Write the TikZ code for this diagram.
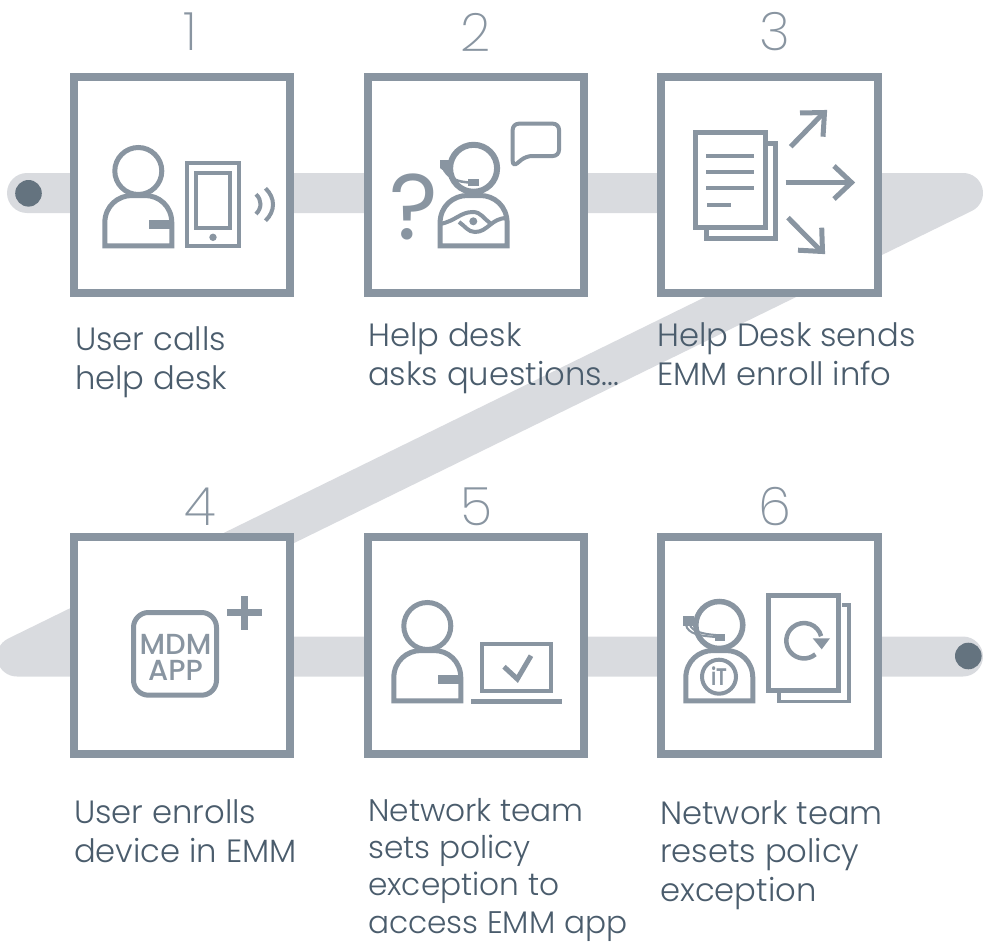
\documentclass[tikz,border=0pt]{standalone}
\usepackage{fontspec}
\setmainfont{Poppins}[UprightFont=* Light,BoldFont=* Medium]
\newfontfamily\numfont{Poppins}[UprightFont=* ExtraLight]
\newfontfamily\heavyfont{Poppins}[UprightFont=* SemiBold]
\newfontfamily\regfont{Poppins}
\definecolor{frame}{HTML}{8995A1}
\definecolor{band}{HTML}{D9DBDF}
\definecolor{dot}{HTML}{64737F}
\definecolor{caption}{HTML}{4A5C6C}
\newcommand\personicon[4]{%
  \begin{scope}[shift={(#1,#2)},icon]
    \draw[line width=#3] (138.3,171+#4) circle (23.5);
    \draw (104.8,245.8) -- (104.8,223) .. controls (104.8,206) and (118,195.5) .. (132,195.5)
      -- (145,195.5) .. controls (159,195.5) and (171.8,206) .. (171.8,223) -- (171.8,245.8) -- cycle;
  \end{scope}}
\tikzset{
  x=1pt,y=-1pt,
  icon/.style={draw=frame,line width=5pt,line join=miter},
  thinicon/.style={draw=frame,line width=4pt},
  boxnode/.style={draw=frame,line width=8pt,fill=white,minimum size=216.5pt,inner sep=0pt,outer sep=0pt},
  numtext/.style={text=frame,font=\numfont\fontsize{53}{53}\selectfont,anchor=center,inner sep=0pt},
  captext/.style={text=caption,font=\fontsize{32.2}{38.4}\selectfont,anchor=base west,inner sep=0pt,align=left},
}
\begin{document}
\begin{tikzpicture}
\useasboundingbox (0,0) rectangle (983,942);
\clip (0,0) rectangle (983,942);
% band
\coordinate (bs) at (27,193);
\coordinate (bc1) at (963,193);
\coordinate (bc2) at (17,656.5);
\coordinate (be) at (963,656.5);
\draw[band,line width=40pt,line join=round,line cap=round] (bs) -- (bc1) -- (bc2) -- (be);
\node[circle,fill=dot,minimum size=26.6pt,inner sep=0pt] (dotA) at (28.5,193.3) {};
\node[circle,fill=dot,minimum size=26.6pt,inner sep=0pt] (dotB) at (968.3,656) {};
% boxes
\node[boxnode] (b1) at (182.2,185) {};
\node[boxnode] (b2) at (475.8,185) {};
\node[boxnode] (b3) at (769.4,185) {};
\node[boxnode] (b4) at (182.2,645.7) {};
\node[boxnode] (b5) at (475.8,645.7) {};
\node[boxnode] (b6) at (769.4,645.7) {};
% numbers
\node[numtext] (n1) at (190.5,32) {1};
\node[numtext] (n2) at (476,32) {2};
\node[numtext] (n3) at (775,32) {3};
\node[numtext] (n4) at (200,507) {4};
\node[numtext] (n5) at (476.5,507) {5};
\node[numtext] (n6) at (775,507) {6};
% captions
\node[captext] (c1) at (75,389) {User calls\\help desk};
\node[captext] (c2) at (368,385) {Help desk\\asks questions...};
\node[captext] (c3) at (657,385) {Help Desk sends\\EMM enroll info};
\node[captext] (c4) at (74,862) {User enrolls\\device in EMM};
\node[captext,font=\fontsize{31.2}{37.2}\selectfont] (c5) at (368,933) {Network team\\sets policy\\exception to\\access EMM app};
\node[captext] (c6) at (660,901) {Network team\\resets policy\\exception};
% icon 1
\personicon{0}{0}{5pt}{0}
\fill[frame] (149,220) rectangle (174,229);
\draw[thinicon] (187,162.7) rectangle (239.3,246.3);
\draw[thinicon] (196,173) rectangle (230,228);
\fill[frame] (213,237.3) circle (3.7);
\draw[thinicon] (256,194.3) .. controls (262,200) and (262,208) .. (256,214);
\draw[thinicon] (265.5,188.3) .. controls (275.5,198) and (275.5,211) .. (265.5,220.7);
% icon 2
\personicon{335.3}{0}{6pt}{-2.7}
\fill[frame] (440,160) -- (450,160) -- (450,176) -- (440,168) -- cycle;
\draw[frame,line width=2.5pt] (444,170) .. controls (450,179) and (458,182) .. (470,182.5);
\fill[frame] (468,179) rectangle (478.5,186);
\draw[frame,line width=4pt] (440,224) .. controls (456,221) and (460,212) .. (473,212)
  .. controls (481,212) and (484,219) .. (490,223);
\draw[frame,line width=4pt] (459,222) .. controls (465,226) and (468,232) .. (475,232)
  .. controls (488,232) and (491,218) .. (507,218);
\fill[frame] (473.3,221.3) circle (4);
\node[text=frame,font=\regfont\fontsize{93}{93}\selectfont,inner sep=0pt,anchor=center] (qm) at (413.5,207) {?};
\draw[thinicon,rounded corners=6pt,line join=miter] (512.7,167) -- (512.7,123.7) -- (559,123.7) -- (559,156) -- (526,156) -- cycle;
% icon 3
\draw[icon] (767.7,143.5) -- (775.8,143.5) -- (775.8,238.2) -- (706.5,238.2) -- (706.5,230);
\draw[icon] (695.8,132.5) rectangle (765.2,227.5);
\foreach \yy in {156,172,188} \draw[thinicon] (706,\yy) -- (754,\yy);
\draw[thinicon] (707,204.7) -- (731,204.7);
\draw[icon] (785.7,182.5) -- (851,182.5);
\draw[icon] (834,166) -- (851.5,182.5) -- (834,199);
\draw[icon] (790.7,146.7) -- (823,113.5);
\draw[icon] (800,113) -- (824.5,112.5) -- (823,136.7);
\draw[icon] (788,217.7) -- (821,251);
\draw[icon] (798,250.2) -- (822.5,251.5) -- (821.7,227.7);
% icon 4
\draw[icon,rounded corners=15pt] (133.5,612.5) rectangle (216.5,695.2);
\node[text=frame,font=\fontsize{29}{26}\selectfont\bfseries,inner sep=0pt,align=center,anchor=base] (mdm) at (175.5,680) {MDM\\APP};
\fill[frame] (226.7,609.2) rectangle (261.7,616.2);
\fill[frame] (240.5,595.7) rectangle (247.5,630);
% icon 5
\personicon{289}{455}{5pt}{0}
\fill[frame] (438,675) rectangle (463,684);
\draw[thinicon] (482,643.7) rectangle (551.3,690.7);
\fill[frame] (471,698.8) rectangle (562,703.8);
\draw[icon] (504,666.7) -- (517.3,679) -- (531,655.7);
% icon 6
\personicon{581}{455}{5.5pt}{-1}
\fill[frame] (683.3,615.7) rectangle (694,625.7);
\draw[frame,line width=2pt] (686,625) .. controls (688,634) and (700,636) .. (716,637);
\draw[frame,line width=2pt] (690,625) .. controls (692,631) and (702,634) .. (716,635);
\fill[frame] (715,633.5) rectangle (725,640.5);
\draw[thinicon] (719,676.7) circle (17);
\node[text=frame,font=\heavyfont\fontsize{24}{24}\selectfont,inner sep=0pt] (it) at (719,676) {\scalebox{.78}[1]{iT}};
\draw[draw=frame,line width=3.5pt] (842,605) -- (849.2,605) -- (849.2,701.5) -- (779,701.5) -- (779,693);
\draw[icon] (768.5,595.8) rectangle (838.2,690.8);
\draw[frame,line width=4.5pt] (815.4,654.3) arc[start angle=50,end angle=345,radius=17.7];
\fill[frame] (812.7,638.3) -- (830,638.3) -- (821.7,649.3) -- cycle;
\end{tikzpicture}
\end{document}
